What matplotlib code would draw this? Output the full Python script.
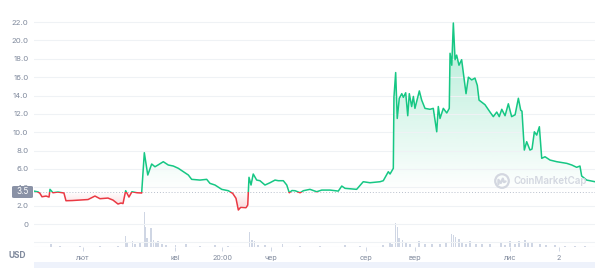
import numpy as np
import matplotlib
matplotlib.use('Agg')
import matplotlib.pyplot as plt
from matplotlib.path import Path
from matplotlib.patches import Rectangle, FancyBboxPatch, Circle

# ---------------- data ----------------
days = [0, 2.6, 3.8, 5.1, 7.7, 9.6, 10.2, 12.1, 15.3, 19.1, 20.4, 24.3, 29.4, 34.5, 38.9,
        42.1, 47.2, 50.4, 53.6, 55.5, 56.8, 58.5, 60.6, 62.5, 65.7, 68.7, 70.4, 72.6, 75.1,
        77.2, 79.1, 82.5, 85.7, 88.9, 92.1, 95.3, 98.5, 100.6, 105.9, 110.2, 112.3, 115.5,
        119.8, 124.0, 126.8, 128.9, 130.4, 131.9, 135.3, 136.4, 137.2, 138.5, 139.9, 142.1,
        144.2, 147.4, 150.6, 153.8, 155.9, 159.1, 161.3, 162.9, 164.6, 166.6, 169.8, 171.9,
        176.1, 180.4, 183.6, 188.9, 194.2, 196.4, 198.5, 205.9, 210.1, 214.4, 220.8, 222.9,
        226.1, 227.2, 229.3, 229.7, 230.8, 231.8, 233.1, 234.7, 235.7, 237.2, 238.5, 239.5,
        241.0, 242.1, 243.1, 245.9, 247.4, 249.5, 252.7, 254.8, 257.0, 258.0, 259.1, 261.2,
        263.4, 265.0, 265.5, 266.6, 267.6, 268.7, 269.7, 271.2, 272.9, 275.7, 277.2, 279.3,
        281.4, 282.9, 284.0, 287.8, 291.0, 293.1, 295.3, 296.9, 298.5, 300.6, 302.7, 304.8,
        307.0, 309.1, 310.6, 311.4, 312.9, 314.4, 316.5, 317.8, 319.3, 320.8, 322.5, 324.0,
        326.1, 329.3, 333.6, 340.0, 343.2, 346.3, 348.4, 349.5, 352.7, 358.0]
price = [3.59, 3.50, 3.34, 2.97, 3.05, 2.94, 3.78, 3.41, 3.49, 3.38, 2.54, 2.56, 2.61, 2.67,
         3.05, 2.76, 2.83, 2.61, 2.18, 2.29, 2.23, 3.63, 2.94, 3.52, 3.41, 3.38, 7.77, 5.34,
         6.54, 6.24, 6.43, 6.79, 6.43, 6.32, 6.07, 5.70, 5.34, 4.87, 4.79, 4.87, 4.43, 4.25,
         3.78, 3.63, 3.34, 2.80, 1.53, 1.82, 1.78, 2.07, 5.09, 4.25, 5.45, 4.79, 4.72, 4.25,
         4.50, 4.79, 4.72, 4.72, 4.25, 3.41, 3.65, 3.63, 3.41, 3.63, 3.78, 3.52, 3.70, 3.70,
         3.59, 4.14, 3.89, 3.78, 4.61, 4.50, 4.61, 4.72, 5.70, 5.45, 6.07, 13.8, 16.5, 11.5,
         13.7, 14.2, 13.8, 14.3, 11.8, 14.2, 12.8, 13.9, 12.6, 14.5, 13.5, 12.6, 12.5, 12.6,
         10.05, 12.8, 11.5, 12.6, 12.1, 12.6, 18.6, 17.3, 21.9, 17.9, 18.4, 17.3, 17.9, 14.2,
         16.0, 15.7, 15.9, 15.1, 13.5, 13.0, 12.2, 11.7, 12.2, 11.7, 12.5, 11.8, 13.1, 11.7,
         11.9, 13.7, 12.4, 12.3, 8.06, 8.97, 8.06, 8.17, 10.05, 9.69, 10.6, 7.16, 7.33, 6.97,
         6.79, 6.61, 6.43, 6.18, 6.32, 5.23, 4.79, 4.61]

vol_days = [10.8, 16.6, 29.4, 42, 53.6, 58.4, 59.3, 62.9, 64.5, 67.6, 70.4, 71.2, 72.1, 74.7,
            76.3, 77.9, 79.1, 81.7, 84.2, 90.3, 97, 106, 115.5, 123.8, 137.4, 139, 140.6, 143,
            147.4, 158.7, 169.8, 182.5, 198.5, 208, 222.7, 227.2, 228.5, 230.7, 231.8, 232.9,
            235.3, 237.4, 240, 245.7, 249.5, 254, 259, 263, 266.6, 267.8, 269, 271.2, 273.1,
            275.7, 278.2, 282, 285.9, 291, 298, 300.6, 303.8, 307, 309.5, 313.3, 315.2, 317.8,
            323, 326.7, 332.5, 338.9, 345.3, 351.7]
volume = [3.3, 1, 1, 1, 1.5, 11, 5, 6.5, 3, 4, 35, 20, 9, 19, 7, 5, 5.6, 3, 2.5, 2.3, 3, 1.5,
          2, 1.5, 14.7, 7, 5.6, 2.5, 2, 3, 1.5, 1.5, 2, 1.5, 2, 4.6, 3, 24.5, 20, 9, 7, 4, 3.5,
          5.6, 3, 3, 3.5, 4, 13, 12, 10.5, 7.8, 4, 3, 6.5, 3, 3, 3.5, 4, 2.5, 5.6, 3, 6.5, 7, 4,
          4, 3, 2, 2, 1.5, 1.5, 1.5]

ytick_vals = [-2, 0, 2, 4, 6, 8, 10, 12, 14, 16, 18, 20, 22]
ytick_labels = ['', '0', '2.0', '4.0', '6.0', '8.0', '10.0', '12.0', '14.0', '16.0',
                '18.0', '20.0', '22.0']
xtick_days = [31, 90, 120, 151, 212, 243, 304, 335]
xtick_labels = ['лют', 'кві', '20:00', 'чер', 'сер', 'вер', 'лис', '2']
baseline = 3.5
baseline_label = '3.5'

GREEN = '#16c784'
RED = '#ea3943'
W, H = 600, 268

plt.rcParams['font.family'] = ['Inter', 'DejaVu Sans']

fig = plt.figure(figsize=(6, 2.68), dpi=100)
rect = [34 / W, 21 / H, 561 / W, 232 / H]
XMIN, XMAX = 0, 358
YMIN, YMAX = -2.5, 22.77

# volume axes (behind)
vax = fig.add_axes(rect)
vax.set_xlim(XMIN, XMAX)
vax.set_ylim(0, max(volume) * 232 / 35)
vax.bar(vol_days, volume, width=0.9, color='#cfd6e4', linewidth=0)
vax.axhline(0.25, color='#e3e7ee', lw=0.8)
vax.axis('off')

ax = fig.add_axes(rect)
ax.patch.set_alpha(0)
ax.set_xlim(XMIN, XMAX)
ax.set_ylim(YMIN, YMAX)
for s in ax.spines.values():
    s.set_visible(False)

ax.set_yticks(ytick_vals)
ax.set_yticklabels(ytick_labels)
ax.grid(axis='y', color='#eff2f5', lw=0.8, zorder=0)
ax.tick_params(axis='y', length=0, pad=4, labelsize=5.6, labelcolor='#808a9d')

ax.set_xticks(xtick_days)
ax.set_xticklabels(xtick_labels)
ax.tick_params(axis='x', length=3, width=0.7, color='#cfd6e4', pad=3,
               labelsize=5.2, labelcolor='#808a9d')

# gradient fill
d = np.array(days)
p = np.array(price)
poly = ax.fill_between(d, p, baseline, facecolor='none', edgecolor='none')
yy = np.linspace(YMIN, YMAX, 400)
img = np.zeros((400, 1, 4))
g = matplotlib.colors.to_rgb(GREEN)
r = matplotlib.colors.to_rgb(RED)
for i, v in enumerate(yy):
    if v >= baseline:
        img[i, 0, :3] = g
        img[i, 0, 3] = min(0.34, 0.34 * (v - baseline) / (22 - baseline))
    else:
        img[i, 0, :3] = r
        img[i, 0, 3] = min(0.22, 0.22 * (baseline - v) / (baseline - 1.5))
im = ax.imshow(img, extent=[XMIN, XMAX, YMIN, YMAX], origin='lower', aspect='auto',
               interpolation='bilinear', zorder=1)
cpath = Path.make_compound_path(*poly.get_paths())
im.set_clip_path(cpath, ax.transData)

ax.axhline(baseline, color='#b8bfcc', lw=0.7, ls=(0, (1, 2)), zorder=2)

lg, = ax.plot(d, p, color=GREEN, lw=1.1, zorder=3, solid_joinstyle='round')
lg.set_clip_path(Rectangle((XMIN, baseline), XMAX - XMIN, 40, transform=ax.transData))
lr, = ax.plot(d, p, color=RED, lw=1.1, zorder=3, solid_joinstyle='round')
lr.set_clip_path(Rectangle((XMIN, -20), XMAX - XMIN, 20 + baseline, transform=ax.transData))

# baseline label box
bx = FancyBboxPatch((12 / W, 1 - 198 / H), 21 / W, 12 / H, boxstyle='round,pad=0,rounding_size=0.004',
                    transform=fig.transFigure, facecolor='#8a92a6', edgecolor='none', zorder=10)
fig.patches.append(bx)
fig.text(22.5 / W, 1 - 192 / H, baseline_label, color='white', fontsize=5.8, ha='center',
         va='center', zorder=11)

fig.text(17 / W, 1 - 256 / H, 'USD', color='#808a9d', fontsize=6, fontweight='bold',
         ha='center', va='center')

# bottom navigator band
fig.patches.append(Rectangle((34 / W, 0), 561 / W, 6 / H, transform=fig.transFigure,
                             facecolor='#eef2fb', edgecolor='none'))

# watermark
ax_w = fig.add_axes([494 / W, 1 - 189 / H, 16 / W, 16 / H])
ax_w.set_xlim(-1, 1)
ax_w.set_ylim(-1, 1)
ax_w.set_aspect('equal')
ax_w.axis('off')
ax_w.add_patch(Circle((0, 0), 0.85, fill=False, ec='#d3d7e0', lw=1.6))
ax_w.plot([-0.45, -0.45, -0.15, 0.1, 0.25, 0.45], [-0.4, 0.15, -0.25, 0.3, -0.15, -0.05],
          color='#d3d7e0', lw=1.6, solid_capstyle='round')
fig.text(513 / W, 1 - 181 / H, 'CoinMarketCap', color='#d3d7e0', fontsize=7.0,
         fontweight='semibold', ha='left', va='center')

fig.savefig('out.png', dpi=100, facecolor='white')
